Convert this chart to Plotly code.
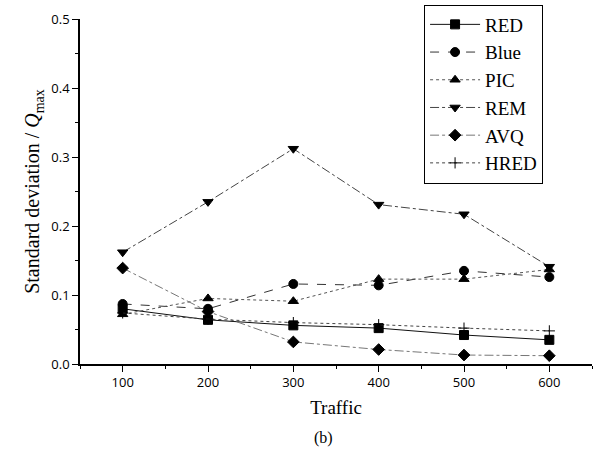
import plotly.graph_objects as go

traffic = [100, 200, 300, 400, 500, 600]
red = [0.080, 0.064, 0.056, 0.052, 0.042, 0.035]
blue = [0.087, 0.080, 0.116, 0.114, 0.135, 0.126]
pic = [0.072, 0.095, 0.091, 0.123, 0.123, 0.137]
rem = [0.162, 0.235, 0.312, 0.231, 0.217, 0.141]
avq = [0.139, 0.076, 0.032, 0.021, 0.013, 0.012]
hred = [0.074, 0.065, 0.060, 0.057, 0.052, 0.048]

series = [
    ("RED", red, "solid", "square", "#111"),
    ("Blue", blue, "dash", "circle", "#333"),
    ("PIC", pic, "dot", "triangle-up", "#555"),
    ("REM", rem, "dashdot", "triangle-down", "#444"),
    ("AVQ", avq, "dashdot", "diamond", "#777"),
    ("HRED", hred, "dot", "cross-thin", "#444"),
]

fig = go.Figure()
for name, vals, dash, sym, col in series:
    fig.add_trace(go.Scatter(
        x=traffic, y=vals, name=name, mode="lines+markers",
        line=dict(color=col, width=1, dash=dash),
        marker=dict(symbol=sym, size=9 if sym != "cross-thin" else 8, color="black",
                    line=dict(color="black", width=1)),
    ))

fig.update_layout(
    width=594, height=455,
    margin=dict(l=80, r=2, t=19, b=91),
    plot_bgcolor="white", paper_bgcolor="white",
    showlegend=True,
    legend=dict(x=0.672, y=1.042, xanchor="left", yanchor="top",
                bordercolor="black", borderwidth=1,
                font=dict(family="Liberation Serif", size=19, color="black"),
                tracegroupgap=0, itemwidth=50),
    annotations=[dict(text="(b)", x=0.475, y=-0.214, xref="paper", yref="paper",
                      showarrow=False, yanchor="middle",
                      font=dict(family="Liberation Serif", size=16, color="black"))],
)
fig.update_xaxes(
    range=[50, 650], tickvals=[100, 200, 300, 400, 500, 600],
    ticks="outside", ticklen=6, tickcolor="black", showline=True, linecolor="black", linewidth=1.5,
    showgrid=False, zeroline=False,
    minor=dict(tickvals=[50, 150, 250, 350, 450, 550, 650], ticks="outside", ticklen=3, tickcolor="black"),
    tickfont=dict(family="Open Sans", size=13, color="black"),
    title=dict(text="Traffic", font=dict(family="Liberation Serif", size=19, color="black"), standoff=10),
)
fig.update_yaxes(
    range=[0, 0.5], tickvals=[0, 0.1, 0.2, 0.3, 0.4, 0.5], tickformat=".1f",
    ticks="outside", ticklen=6, tickcolor="black", showline=True, linecolor="black", linewidth=1.5,
    showgrid=False, zeroline=False,
    minor=dict(tickvals=[0.05, 0.15, 0.25, 0.35, 0.45], ticks="outside", ticklen=3, tickcolor="black"),
    tickfont=dict(family="Open Sans", size=13, color="black"),
    title=dict(text="Standard deviation / <i>Q</i><sub>max</sub>",
               font=dict(family="Liberation Serif", size=20, color="black"), standoff=6),
)

fig.write_html("out.html")
